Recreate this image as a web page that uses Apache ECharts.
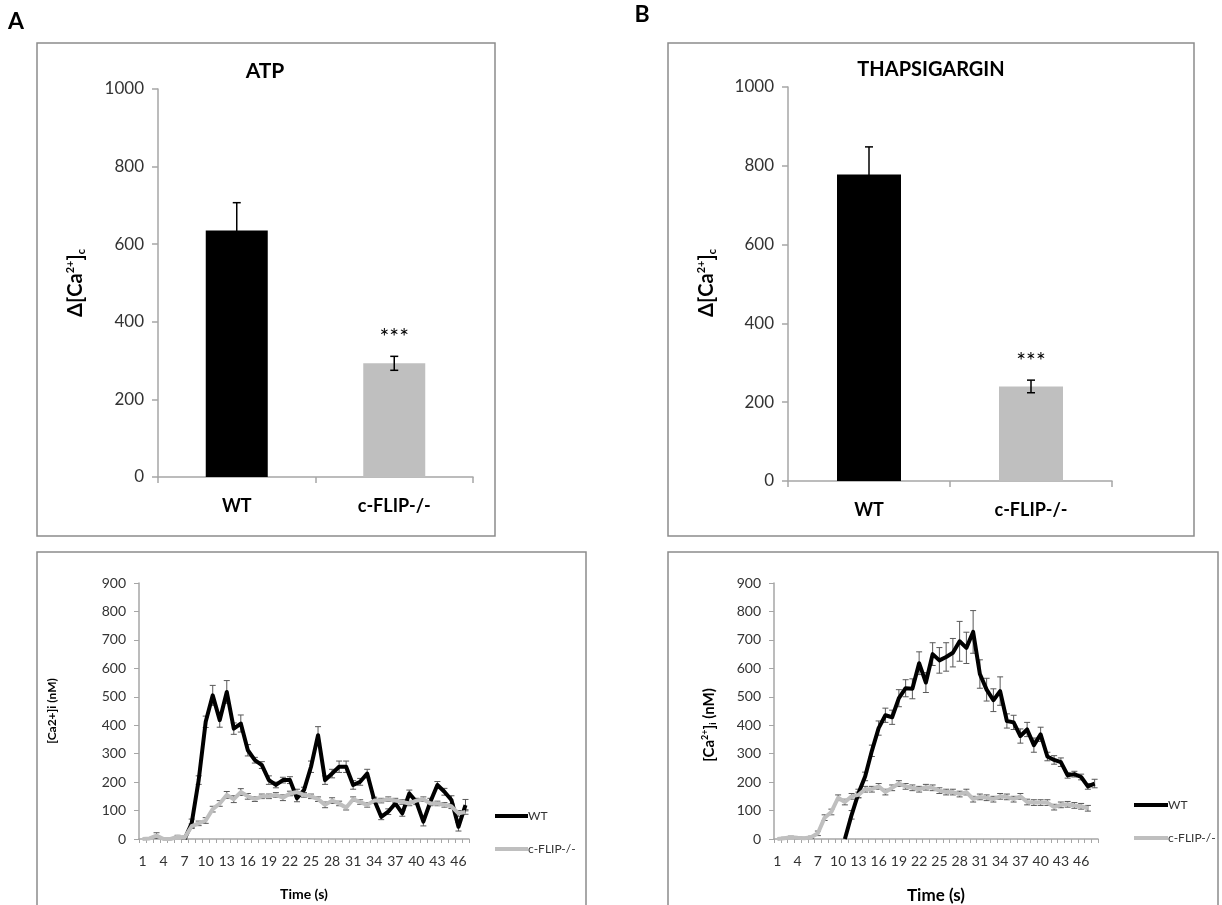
<!DOCTYPE html>
<html>
<head>
<meta charset="utf-8">
<script src="https://cdn.jsdelivr.net/npm/echarts@6/dist/echarts.min.js"></script>
<style>
html,body{margin:0;padding:0;background:#fff;}
#c{width:1222px;height:905px;}
</style>
</head>
<body>
<div id="c"></div>
<script>
// ---------- DATA ----------
const barCats = ['WT', 'c-FLIP-/-'];
const atpMean = [635, 293];
const atpErr = [72, 18];
const thapMean = [778, 240];
const thapErr = [70, 16];
const sigMarks = ['', '***'];

const timeA = Array.from({length: 47}, (_, i) => String(i + 1));
const timeB = Array.from({length: 48}, (_, i) => String(i + 1));

const wtA = [null,null,null,null,null,null,
  0,55,207,412,505,418,517,388,406,312,
  277,260,207,190,207,207,143,172,254,365,
  207,230,254,254,190,201,230,137,78,96,
  125,90,160,131,61,131,190,166,137,43,
  119];
const wtAErr = [null,null,null,null,null,null,
  0,15,15,20,35,25,40,20,30,20,
  10,12,15,10,10,12,12,10,20,30,
  15,15,20,20,15,12,15,10,10,10,
  10,10,12,10,15,12,12,12,15,15,
  20];
const koA = [0,2,12,0,0,8,5,45,55,65,
  105,125,155,140,165,150,140,150,150,155,
  145,160,165,155,150,140,120,135,125,110,
  140,130,120,135,135,140,135,130,125,135,
  140,125,125,120,115,90,95];
const koAErr = [0,0,10,0,0,5,5,8,8,10,
  10,10,12,12,12,10,8,8,8,8,
  10,8,10,8,8,8,10,10,8,8,
  8,8,8,8,8,8,8,8,8,8,
  8,8,8,8,8,10,8];

const wtB = [null,null,null,null,null,null,null,null,null,null,
  0,85,160,220,310,390,435,428,495,530,
  528,618,550,650,628,640,655,695,672,728,
  580,525,488,520,415,410,362,385,330,368,
  290,278,270,224,228,218,185,195];
const wtBErr = [null,null,null,null,null,null,null,null,null,null,
  0,15,15,15,20,25,25,25,30,30,
  35,40,35,40,45,50,50,70,55,75,
  50,40,40,50,25,25,25,25,25,25,
  15,15,15,10,10,10,10,15];
const koB = [0,3,6,4,3,6,20,75,95,145,
  130,150,155,175,175,185,165,180,195,185,
  180,175,182,180,170,165,165,158,165,140,
  148,145,140,150,148,140,150,130,128,128,
  128,112,120,122,118,115,108,null];
const koBErr = [0,3,4,3,3,4,8,10,10,10,
  10,10,10,10,10,10,10,10,10,10,
  10,10,10,10,10,10,10,10,10,10,
  10,10,10,10,10,10,10,10,10,10,
  10,10,10,10,10,10,10,null];

// ---------- STYLE ----------
const FONT = 'Lato';
const AXIS_GRAY = '#a6a6a6';
const TXT = '#333333';
const barColors = ['#000000', '#bfbfbf'];

function errData(vals, errs) {
  return vals.map((v, i) => [i, v, errs[i]]);
}
function errRender(capHalf, color, width) {
  return function (params, api) {
    const v = api.value(1), e = api.value(2), i = api.value(0);
    if (v == null || isNaN(v) || e == null || isNaN(e) || e === 0) return;
    const t = api.coord([i, v + e]);
    const b = api.coord([i, v - e]);
    const st = {stroke: color, lineWidth: width};
    return {
      type: 'group',
      children: [
        {type: 'line', shape: {x1: t[0], y1: t[1], x2: b[0], y2: b[1]}, style: st},
        {type: 'line', shape: {x1: t[0] - capHalf, y1: t[1], x2: t[0] + capHalf, y2: t[1]}, style: st},
        {type: 'line', shape: {x1: b[0] - capHalf, y1: b[1], x2: b[0] + capHalf, y2: b[1]}, style: st}
      ]
    };
  };
}
function sigRender(params, api) {
  const s = sigMarks[params.dataIndex];
  if (!s) return;
  const p = api.coord([api.value(0), api.value(1) + api.value(2)]);
  return {type: 'text', x: p[0], y: p[1] - 19,
    style: {text: s, fontFamily: FONT, fontSize: 23, fill: '#000', align: 'center', verticalAlign: 'middle'}};
}

function barX(gi) {
  return {
    type: 'category', gridIndex: gi, data: barCats,
    axisLine: {lineStyle: {color: AXIS_GRAY, width: 1.5}},
    axisTick: {show: true, length: 6, lineStyle: {color: AXIS_GRAY, width: 1.5}},
    axisLabel: {fontFamily: FONT, fontSize: 18, fontWeight: 'bold', color: '#000', margin: 20}
  };
}
function barY(gi) {
  return {
    type: 'value', gridIndex: gi, min: 0, max: 1000, interval: 200,
    splitLine: {show: false},
    axisLine: {show: true, lineStyle: {color: AXIS_GRAY, width: 1.5}},
    axisTick: {show: true, length: 6, lineStyle: {color: AXIS_GRAY, width: 1.5}},
    axisLabel: {fontFamily: FONT, fontSize: 17, color: TXT, margin: 14, formatter: v => String(v)}
  };
}
function lineX(gi, cats, nameSize) {
  return {
    type: 'category', gridIndex: gi, data: cats, boundaryGap: true,
    name: 'Time (s)', nameLocation: 'middle', nameGap: 48,
    nameTextStyle: {fontFamily: FONT, fontSize: nameSize, fontWeight: 'bold', color: '#000'},
    axisLine: {lineStyle: {color: AXIS_GRAY, width: 1.5}},
    axisTick: {show: true, interval: 0, length: 4, lineStyle: {color: AXIS_GRAY}},
    axisLabel: {interval: 2, fontFamily: FONT, fontSize: 14, color: TXT, margin: 15}
  };
}
function lineY(gi) {
  return {
    type: 'value', gridIndex: gi, min: 0, max: 900, interval: 100,
    splitLine: {show: false},
    axisLine: {show: true, lineStyle: {color: AXIS_GRAY, width: 1.5}},
    axisTick: {show: true, length: 5, lineStyle: {color: AXIS_GRAY}},
    axisLabel: {fontFamily: FONT, fontSize: 14, color: TXT, margin: 13, formatter: v => String(v)}
  };
}

const boxStyle = {fill: 'none', stroke: '#8c8c8c', lineWidth: 1.5};
const richY = {
  sup: {fontFamily: FONT, fontSize: 11, fontWeight: 'bold', verticalAlign: 'top', lineHeight: 22},
  sub: {fontFamily: FONT, fontSize: 11, fontWeight: 'bold', verticalAlign: 'bottom', lineHeight: 22}
};
const richY2 = {
  sup: {fontFamily: FONT, fontSize: 9, fontWeight: 'bold', verticalAlign: 'top', lineHeight: 17},
  sub: {fontFamily: FONT, fontSize: 9, fontWeight: 'bold', verticalAlign: 'bottom', lineHeight: 17}
};

const option = {
  animation: false,
  backgroundColor: '#fff',
  textStyle: {fontFamily: FONT},
  graphic: [
    {type: 'rect', shape: {x: 37, y: 43, width: 458, height: 493}, style: boxStyle, silent: true},
    {type: 'rect', shape: {x: 668, y: 43, width: 526, height: 493}, style: boxStyle, silent: true},
    {type: 'rect', shape: {x: 37, y: 552, width: 549, height: 400}, style: boxStyle, silent: true},
    {type: 'rect', shape: {x: 668, y: 552, width: 550, height: 400}, style: boxStyle, silent: true},
    {type: 'text', x: 16, y: 22, style: {text: 'A', fontFamily: FONT, fontSize: 23, fontWeight: 'bold', fill: '#000', align: 'center', verticalAlign: 'middle'}},
    {type: 'text', x: 642, y: 15, style: {text: 'B', fontFamily: FONT, fontSize: 23, fontWeight: 'bold', fill: '#000', align: 'center', verticalAlign: 'middle'}},
    {type: 'text', x: 265, y: 71, style: {text: 'ATP', fontFamily: FONT, fontSize: 21, fontWeight: 'bold', fill: '#000', align: 'center', verticalAlign: 'middle'}},
    {type: 'text', x: 931, y: 70, style: {text: 'THAPSIGARGIN', fontFamily: FONT, fontSize: 20, fontWeight: 'bold', fill: '#000', align: 'center', verticalAlign: 'middle'}},
    {type: 'text', x: 76, y: 283, rotation: Math.PI / 2,
      style: {text: 'Δ[Ca{sup|2+}]{sub|c}', rich: richY, fontFamily: FONT, fontSize: 20, fontWeight: 'bold', fill: '#000', align: 'center', verticalAlign: 'middle'}},
    {type: 'text', x: 707, y: 283, rotation: Math.PI / 2,
      style: {text: 'Δ[Ca{sup|2+}]{sub|c}', rich: richY, fontFamily: FONT, fontSize: 20, fontWeight: 'bold', fill: '#000', align: 'center', verticalAlign: 'middle'}},
    {type: 'text', x: 52, y: 711, rotation: Math.PI / 2,
      style: {text: '[Ca2+]i (nM)', fontFamily: FONT, fontSize: 12, fontWeight: 'bold', fill: '#000', align: 'center', verticalAlign: 'middle'}},
    {type: 'text', x: 709, y: 725, rotation: Math.PI / 2,
      style: {text: '[Ca{sup|2+}]{sub|i} (nM)', rich: richY2, fontFamily: FONT, fontSize: 15, fontWeight: 'bold', fill: '#000', align: 'center', verticalAlign: 'middle'}}
  ],
  grid: [
    {left: 158, top: 89, width: 315, height: 388},
    {left: 788, top: 87, width: 324, height: 394},
    {left: 139, top: 583, width: 330, height: 256},
    {left: 774, top: 583, width: 324, height: 258}
  ],
  xAxis: [barX(0), barX(1), lineX(2, timeA, 14), lineX(3, timeB, 17)],
  yAxis: [barY(0), barY(1), lineY(2), lineY(3)],
  legend: [
    {left: 490, top: 804, orient: 'vertical', itemWidth: 33, itemHeight: 4, itemGap: 19, icon: 'rect',
      data: ['WT', 'c-FLIP-/-'], textStyle: {fontFamily: FONT, fontSize: 12, color: TXT, lineHeight: 14, padding: [0, 0, 0, -5]}},
    {left: 1129, top: 793, orient: 'vertical', itemWidth: 34, itemHeight: 4, itemGap: 19, icon: 'rect',
      data: ['WT', 'c-FLIP-/-'], textStyle: {fontFamily: FONT, fontSize: 12, color: TXT, lineHeight: 14, padding: [0, 0, 0, -5]}}
  ],
  series: [
    {type: 'bar', name: 'ATP', xAxisIndex: 0, yAxisIndex: 0, barWidth: 62,
      data: atpMean.map((v, i) => ({value: v, itemStyle: {color: barColors[i]}}))},
    {type: 'custom', xAxisIndex: 0, yAxisIndex: 0, data: errData(atpMean, atpErr), renderItem: errRender(4, '#000000', 1.5), z: 5},
    {type: 'custom', xAxisIndex: 0, yAxisIndex: 0, data: errData(atpMean, atpErr), renderItem: sigRender, z: 5},

    {type: 'bar', name: 'Thapsigargin', xAxisIndex: 1, yAxisIndex: 1, barWidth: 64,
      data: thapMean.map((v, i) => ({value: v, itemStyle: {color: barColors[i]}}))},
    {type: 'custom', xAxisIndex: 1, yAxisIndex: 1, data: errData(thapMean, thapErr), renderItem: errRender(4, '#000000', 1.5), z: 5},
    {type: 'custom', xAxisIndex: 1, yAxisIndex: 1, data: errData(thapMean, thapErr), renderItem: sigRender, z: 5},

    {type: 'custom', xAxisIndex: 2, yAxisIndex: 2, data: errData(wtA, wtAErr), renderItem: errRender(3, '#595959', 1), z: 2},
    {type: 'line', name: 'WT', xAxisIndex: 2, yAxisIndex: 2, data: wtA, symbol: 'none', z: 3,
      lineStyle: {color: '#000', width: 4, join: 'round'}, itemStyle: {color: '#000'}},
    {type: 'custom', xAxisIndex: 2, yAxisIndex: 2, data: errData(koA, koAErr), renderItem: errRender(3, '#595959', 1), z: 2},
    {type: 'line', name: 'c-FLIP-/-', xAxisIndex: 2, yAxisIndex: 2, data: koA, symbol: 'none', z: 4,
      lineStyle: {color: '#bfbfbf', width: 4, join: 'round'}, itemStyle: {color: '#bfbfbf'}},

    {type: 'custom', xAxisIndex: 3, yAxisIndex: 3, data: errData(wtB, wtBErr), renderItem: errRender(3, '#595959', 1), z: 2},
    {type: 'line', name: 'WT', xAxisIndex: 3, yAxisIndex: 3, data: wtB, symbol: 'none', z: 3,
      lineStyle: {color: '#000', width: 4, join: 'round'}, itemStyle: {color: '#000'}},
    {type: 'custom', xAxisIndex: 3, yAxisIndex: 3, data: errData(koB, koBErr), renderItem: errRender(3, '#595959', 1), z: 2},
    {type: 'line', name: 'c-FLIP-/-', xAxisIndex: 3, yAxisIndex: 3, data: koB, symbol: 'none', z: 4,
      lineStyle: {color: '#bfbfbf', width: 4, join: 'round'}, itemStyle: {color: '#bfbfbf'}}
  ]
};

const chart = echarts.init(document.getElementById('c'), null, {renderer: 'canvas'});
chart.setOption(option);
</script>
</body>
</html>
